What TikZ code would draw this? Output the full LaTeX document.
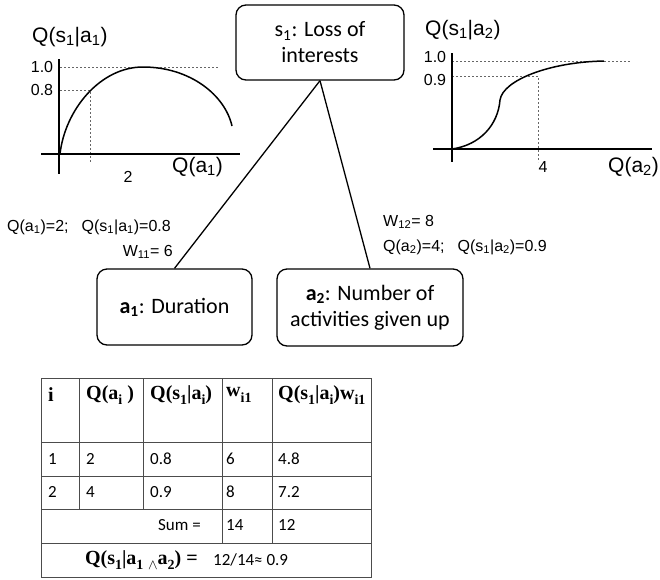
\documentclass[tikz,border=0pt]{standalone}
\usepackage{fontspec}
\setmainfont{Carlito}
\newfontfamily\arialf{Liberation Sans}
\newfontfamily\tnrf{Liberation Serif}
\newcommand{\sbs}[1]{\textsubscript{#1}}
\newcommand{\hsb}[1]{\raisebox{-0.28em}{\fontsize{14}{14}\selectfont #1}}
\begin{document}
\begin{tikzpicture}[x=1pt,y=-1pt,
  box/.style={draw, rounded corners=10pt, line width=1.3pt, align=center,
    font=\fontsize{22}{26}\selectfont, inner sep=0pt},
  link/.style={line width=1.3pt},
  axis/.style={line width=1.8pt},
  curve/.style={line width=1.5pt},
  guide/.style={black!60, line width=0.6pt, dash pattern=on 2pt off 2pt},
  title/.style={font=\arialf\fontsize{21}{24}\selectfont, inner sep=0pt},
  tick/.style={font=\arialf\fontsize{16}{19}\selectfont, inner sep=0pt},
  lab/.style={font=\arialf\fontsize{16}{19}\selectfont, inner sep=0pt},
  grid/.style={draw=black!70, line width=0.9pt},
  hd/.style={font=\tnrf\bfseries\fontsize{20}{22}\selectfont, inner sep=0pt, anchor=west},
  cell/.style={font=\fontsize{17}{19}\selectfont, inner sep=0pt, anchor=west}]
\useasboundingbox (0,0) rectangle (660,579);

% ---- boxes
\node[box, minimum width=168pt, minimum height=75pt] (s1) at (320,42.5) {s\sbs{1}: Loss of\\interests};
\node[box, minimum width=155pt, minimum height=76pt] (a1) at (174.5,307) {\textbf{a\sbs{1}}: Duration};
\node[box, minimum width=186pt, minimum height=77pt] (a2) at (370,307.5) {\textbf{a\sbs{2}}: Number of\\activities given up};
\draw[link] (s1.south) -- (a1.north);
\draw[link] (s1.south) -- (a2.north);

% ---- edge labels
\node[lab, anchor=west] (l1) at (7,227) {Q(a\sbs{1})=2;\hspace{13pt}Q(s\sbs{1}|a\sbs{1})=0.8};
\node[lab, anchor=east] (w1) at (173,252) {W\sbs{11}= 6};
\node[lab, anchor=west] (w2) at (383,222) {W\sbs{12}= 8};
\node[lab, anchor=west] (l2) at (383,247) {Q(a\sbs{2})=4;\hspace{13pt}Q(s\sbs{1}|a\sbs{2})=0.9};

% ---- left graph
\draw[guide] (60,67) -- (218,67);
\draw[guide] (60,90) -- (90,90) -- (90,162);
\draw[axis] (59,59) -- (59,174);
\draw[axis] (41,154) -- (240,154);
\draw[curve] (60,154) .. controls (65,110) and (100,67) .. (143,67)
  .. controls (190,67) and (225,95) .. (232,126);
\node[title, anchor=west] (t1) at (32,37) {Q(s\sbs{1}|a\sbs{1})};
\node[tick] (y10a) at (42,67) {1.0};
\node[tick] (y08) at (42,90) {0.8};
\node[tick] (x2) at (128,177) {2};
\node[title, anchor=west] (xa1) at (172,167) {Q(a\sbs{1})};

% ---- right graph
\draw[guide] (452,61) -- (630,61);
\draw[guide] (452,76) -- (538,76) -- (538,162);
\draw[axis] (452,53) -- (452,162);
\draw[axis] (433,149) -- (652,149);
\draw[curve] (452,149) .. controls (480,145) and (498,125) .. (500,100)
  .. controls (503,80) and (550,62) .. (604,61);
\node[title, anchor=west] (t2) at (425,30) {Q(s\sbs{1}|a\sbs{2})};
\node[tick] (y10b) at (435,57) {1.0};
\node[tick] (y09) at (435,80) {0.9};
\node[tick] (x4) at (543,167) {4};
\node[title, anchor=west] (xa2) at (608,167) {Q(a\sbs{2})};

% ---- table
\draw[grid] (41,378) rectangle (371,577);
\foreach \yy in {442,476,509,543} \draw[grid] (41,\yy) -- (371,\yy);
\foreach \xx in {79,143} \draw[grid] (\xx,378) -- (\xx,509);
\foreach \xx in {222,272} \draw[grid] (\xx,378) -- (\xx,543);

\node[hd] (h1) at (48,395) {i};
\node[hd] (h2) at (86,395) {Q(a\hsb{i} )};
\node[hd] (h3) at (150,395) {Q(s\hsb{1}|a\hsb{i})};
\node[hd] (h4) at (226,395) {w\hsb{i1}};
\node[hd] (h5) at (278,395) {Q(s\hsb{1}|a\hsb{i})w\hsb{i1}};

\node[cell] (c11) at (48,459) {1};
\node[cell] (c12) at (86,459) {2};
\node[cell] (c13) at (150,459) {0.8};
\node[cell] (c14) at (226,459) {6};
\node[cell] (c15) at (278,459) {4.8};
\node[cell] (c21) at (48,492) {2};
\node[cell] (c22) at (86,492) {4};
\node[cell] (c23) at (150,492) {0.9};
\node[cell] (c24) at (226,492) {8};
\node[cell] (c25) at (278,492) {7.2};
\node[cell, anchor=east] (sum) at (201,525) {Sum =};
\node[cell] (s14) at (226,525) {14};
\node[cell] (s12) at (278,525) {12};
\node[hd, anchor=east] (fq) at (198,560) {Q(s\hsb{1}|a\hsb{1\,\,$\wedge$}a\hsb{2}) =};
\node[cell] (fv) at (213,560) {12/14≈ 0.9};
\end{tikzpicture}
\end{document}
